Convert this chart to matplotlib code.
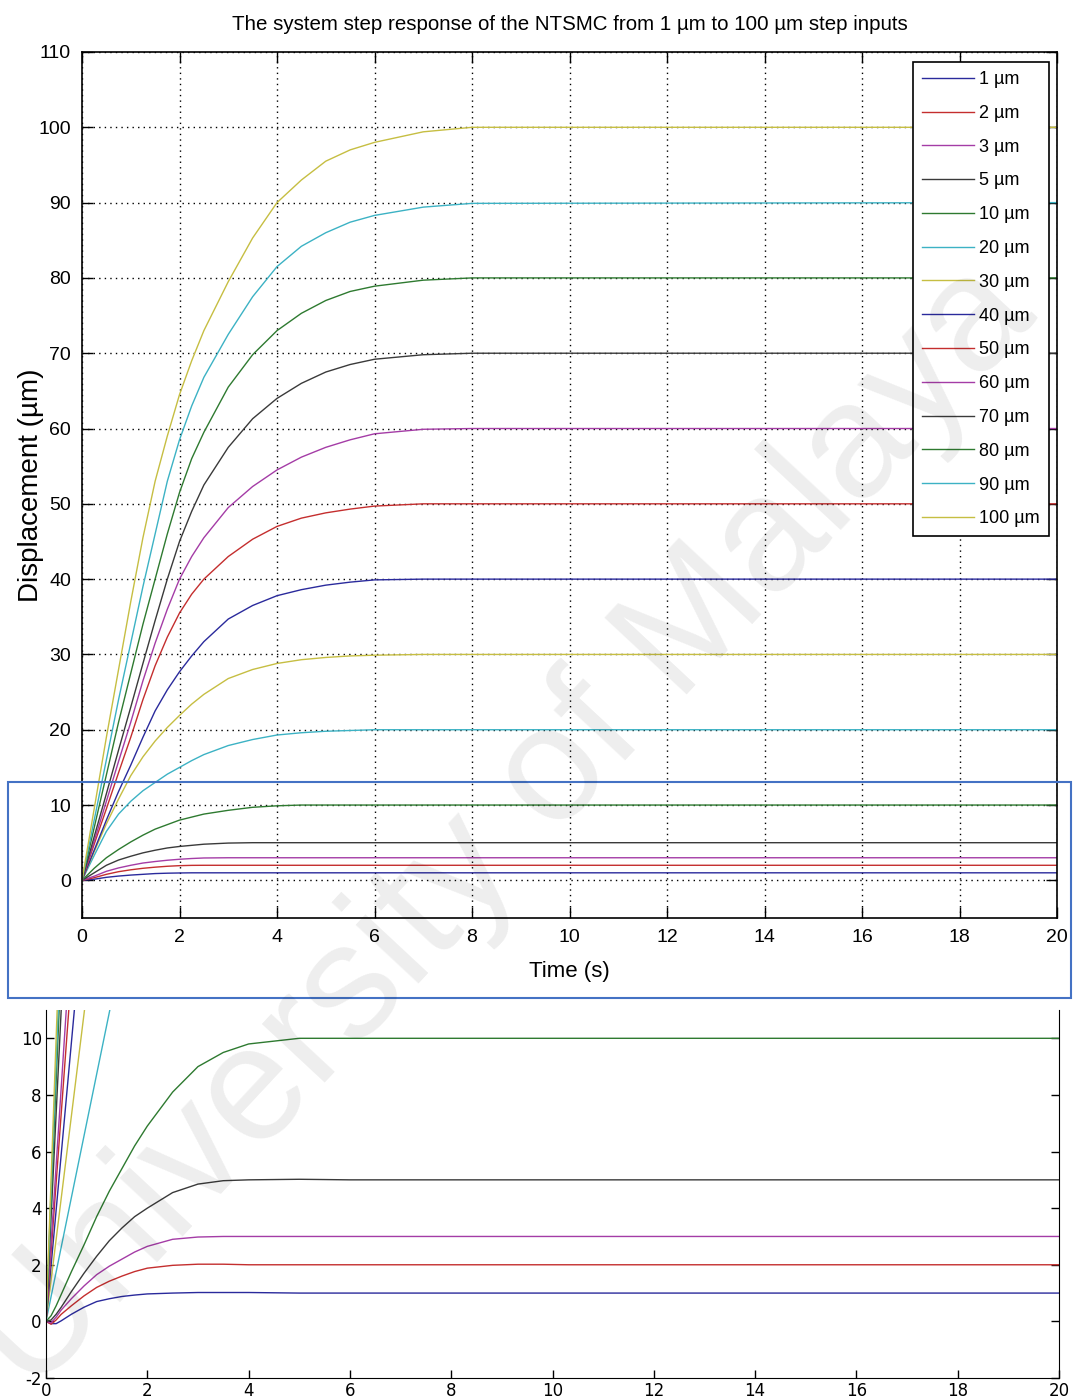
import matplotlib
matplotlib.use('Agg')
import matplotlib.pyplot as plt
from matplotlib.patches import Rectangle

plt.rcParams['font.family'] = ['Liberation Sans', 'DejaVu Sans']
plt.rcParams['axes.unicode_minus'] = False

# step sizes (um) and legend labels
steps = [1, 2, 3, 5, 10, 20, 30, 40, 50, 60, 70, 80, 90, 100]
labels = ['%d \u00b5m' % s for s in steps]
# MATLAB style colour cycle as it looks in the scan
colors = ['#2a2a9c', '#c42e2e', '#a43ca6', '#3a3a3a', '#2e7a30', '#3cb2c4', '#c6be42']

############################## main plot data ##############################
t_top = [0, 0.25, 0.5, 0.75, 1, 1.25, 1.5, 1.75, 2, 2.25, 2.5, 3, 3.5, 4, 4.5, 5, 5.5, 6, 7, 8, 20]
y_1um   = [0, 0.15, 0.4, 0.57, 0.7, 0.8, 0.9, 0.95, 0.98, 1, 1, 1, 1, 1, 1, 1, 1, 1, 1, 1, 1]
y_2um   = [0, 0.35, 0.8, 1.15, 1.4, 1.6, 1.75, 1.87, 1.95, 1.99, 2, 2, 2, 2, 2, 2, 2, 2, 2, 2, 2]
y_3um   = [0, 0.55, 1.2, 1.65, 2.0, 2.3, 2.5, 2.67, 2.8, 2.9, 2.97, 3, 3, 3, 3, 3, 3, 3, 3, 3, 3]
y_5um   = [0, 1.0, 2.0, 2.7, 3.2, 3.65, 4.0, 4.3, 4.5, 4.65, 4.8, 4.95, 5, 5, 5, 5, 5, 5, 5, 5, 5]
y_10um  = [0, 1.6, 3.0, 4.1, 5.1, 6.0, 6.8, 7.4, 8.0, 8.4, 8.8, 9.3, 9.7, 9.9, 10, 10, 10, 10, 10, 10, 10]
y_20um  = [0, 3.3, 6.5, 8.8, 10.5, 11.9, 13.0, 14.1, 15.0, 15.9, 16.7, 17.9, 18.7, 19.3, 19.6, 19.8, 19.9, 20, 20, 20, 20]
y_30um  = [0, 3.8, 7.5, 10.8, 13.9, 16.4, 18.5, 20.3, 21.9, 23.4, 24.7, 26.8, 28.0, 28.8, 29.3, 29.6, 29.8, 29.9, 30, 30, 30]
y_40um  = [0, 4.0, 8.0, 11.8, 15.3, 19.0, 22.5, 25.3, 27.7, 29.8, 31.7, 34.7, 36.5, 37.8, 38.6, 39.2, 39.6, 39.9, 40, 40, 40]
y_50um  = [0, 4.8, 9.5, 14.3, 19.0, 24.0, 28.5, 32.3, 35.5, 38.0, 40.0, 43.0, 45.3, 47.0, 48.1, 48.8, 49.3, 49.7, 50, 50, 50]
y_60um  = [0, 5.2, 10.5, 15.8, 21.0, 26.5, 31.5, 36.0, 40.0, 43.0, 45.5, 49.5, 52.3, 54.5, 56.2, 57.5, 58.5, 59.3, 59.9, 60, 60]
y_70um  = [0, 5.8, 11.5, 17.3, 23.0, 28.8, 34.5, 40.0, 45.0, 49.0, 52.5, 57.5, 61.3, 64.0, 66.0, 67.5, 68.5, 69.2, 69.8, 70, 70]
y_80um  = [0, 7.0, 14.0, 21.0, 27.5, 34.0, 40.0, 46.0, 51.5, 56.0, 59.5, 65.5, 69.8, 73.0, 75.3, 77.0, 78.2, 78.9, 79.7, 80, 80]
y_90um  = [0, 8.0, 16.0, 24.0, 31.5, 39.0, 46.0, 53.0, 58.5, 63.0, 66.8, 72.5, 77.5, 81.5, 84.2, 86.0, 87.4, 88.3, 89.4, 89.9, 90]
y_100um = [0, 9.5, 19.0, 28.0, 37.0, 45.5, 53.0, 59.0, 64.5, 69.0, 73.0, 79.5, 85.3, 90.0, 93.0, 95.5, 97.0, 98.0, 99.4, 100, 100]
top_series = [y_1um, y_2um, y_3um, y_5um, y_10um, y_20um, y_30um, y_40um,
              y_50um, y_60um, y_70um, y_80um, y_90um, y_100um]

############################## zoomed plot data ##############################
t_zoom = [0, 0.1, 0.2, 0.3, 0.5, 0.75, 1, 1.25, 1.5, 1.75, 2, 2.5, 3, 3.5, 4, 5, 6, 20]
z_1um  = [0, -0.08, -0.08, 0.02, 0.25, 0.5, 0.7, 0.8, 0.88, 0.93, 0.97, 1.0, 1.02, 1.02, 1.02, 1.0, 1.0, 1.0]
z_2um  = [0, -0.1, 0.05, 0.25, 0.55, 0.9, 1.2, 1.42, 1.6, 1.76, 1.88, 1.98, 2.02, 2.02, 2.0, 2.0, 2.0, 2.0]
z_3um  = [0, -0.05, 0.15, 0.4, 0.8, 1.25, 1.65, 1.95, 2.2, 2.45, 2.65, 2.9, 2.98, 3.0, 3.0, 3.0, 3.0, 3.0]
z_5um  = [0, 0.05, 0.25, 0.5, 1.05, 1.7, 2.3, 2.85, 3.3, 3.7, 4.0, 4.55, 4.85, 4.97, 5.0, 5.02, 5.0, 5.0]
z_10um = [0, 0.2, 0.55, 0.95, 1.75, 2.7, 3.7, 4.6, 5.4, 6.2, 6.9, 8.1, 9.0, 9.5, 9.8, 10, 10, 10]
zoom_series = [z_1um, z_2um, z_3um, z_5um, z_10um]
# larger steps leave the zoom window: time (s) at which they pass 11 um
zoom_exit_t = [1.26, 0.76, 0.56, 0.45, 0.40, 0.30, 0.26, 0.24, 0.22]
zoom_top = 11

fig = plt.figure(figsize=(10.79, 13.98), dpi=100)
W, H = 1079., 1398.

# ---------------- main axes ----------------
ax = fig.add_axes([82/W, 1-918/H, 975/W, 866/H])
for i, ys in enumerate(top_series):
    ax.plot(t_top, ys, color=colors[i % 7], lw=1.0, label=labels[i])
ax.set_xlim(0, 20)
ax.set_ylim(-5, 110)
ax.set_xticks(range(0, 21, 2))
ax.set_yticks(range(0, 111, 10))
ax.grid(True, color='k', linestyle=(0, (1, 3)), lw=1.0)
ax.tick_params(direction='in', length=8, width=1, top=True, right=True,
               labelsize=14, pad=8)
for sp in ax.spines.values():
    sp.set_linewidth(1.2)
ax.set_xlabel('Time (s)', fontsize=16, labelpad=11)
leg = ax.legend(loc='upper right', bbox_to_anchor=(1-8/975, 1-10/866),
                borderaxespad=0, fontsize=13, handlelength=2.9,
                handletextpad=0.3, labelspacing=0.93, borderpad=0.5,
                fancybox=False, framealpha=1, edgecolor='k')
leg.get_frame().set_linewidth(1.2)

fig.text(570/W, 1-25/H, 'The system step response of the NTSMC from 1 \u00b5m to 100 \u00b5m step inputs',
         ha='center', va='center', fontsize=14.8)
fig.text(31/W, 1-485/H, 'Displacement (\u00b5m)', rotation=90, ha='center', va='center',
         fontsize=20)

# ---------------- zoomed axes ----------------
ax2 = fig.add_axes([46/W, 1-1378/H, 1013/W, 368/H])
for i, ys in enumerate(zoom_series):
    ax2.plot(t_zoom, ys, color=colors[i % 7], lw=1.0)
for j, te in enumerate(zoom_exit_t):
    ax2.plot([0, te], [0, zoom_top], color=colors[(j + 5) % 7], lw=1.0)
ax2.set_xlim(0, 20)
ax2.set_ylim(-2, zoom_top)
ax2.set_xticks(range(0, 21, 2))
ax2.set_yticks(range(-2, 11, 2))
ax2.spines['top'].set_visible(False)
ax2.tick_params(direction='in', length=6, width=1, right=True, labelsize=12, pad=3)
for lab in ax2.get_xticklabels() + ax2.get_yticklabels():
    lab.set_family('DejaVu Sans')

# highlight box round the lower part of the main plot
fig.patches.append(Rectangle((8/W, 1-998/H), 1063/W, 216/H, transform=fig.transFigure,
                             fill=False, edgecolor='#4472c4', lw=1.5))

# watermark
fig.text(505/W, 1-828/H, 'University of Malaya', rotation=47, fontsize=118,
         color='k', alpha=0.07, ha='center', va='center', rotation_mode='anchor')

fig.savefig('out.png', dpi=100)
